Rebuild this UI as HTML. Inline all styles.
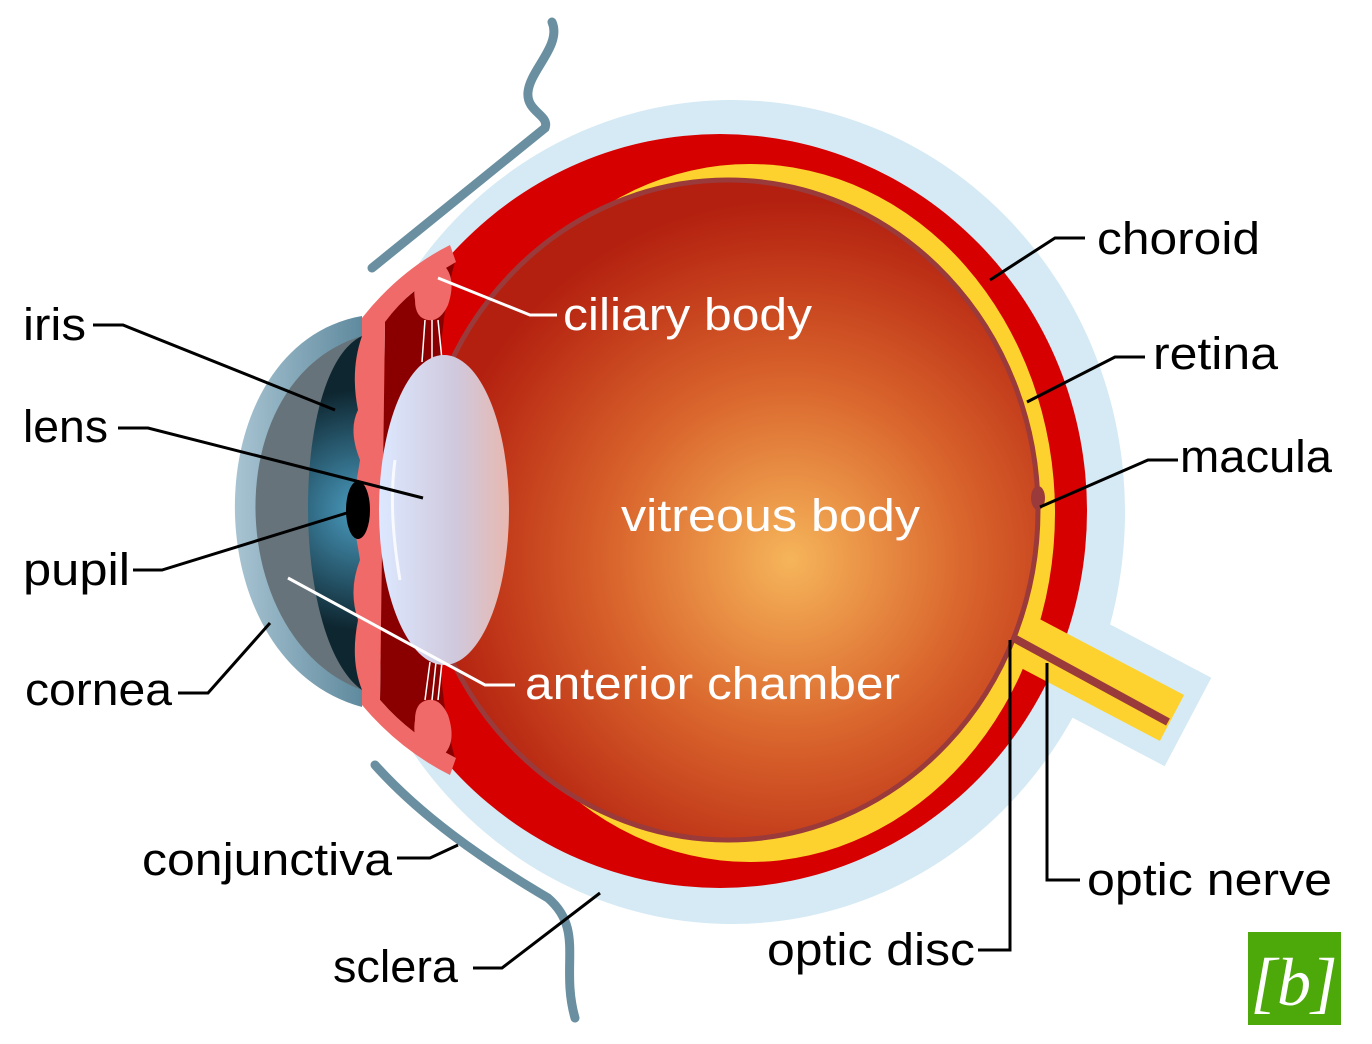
<!DOCTYPE html>
<html><head><meta charset="utf-8"><style>
html,body{margin:0;padding:0;background:#fff;}
svg{display:block;}
text{font-family:"Liberation Sans",sans-serif;font-size:45px;}
</style></head><body>
<svg width="1372" height="1044" viewBox="0 0 1372 1044" xmlns="http://www.w3.org/2000/svg">
<defs>
<radialGradient id="vit" cx="790" cy="560" r="360" gradientUnits="userSpaceOnUse">
<stop offset="0" stop-color="#f6b55a"/><stop offset="0.5" stop-color="#d9642c"/><stop offset="1" stop-color="#b3200f"/>
</radialGradient>
<linearGradient id="lens" x1="0" x2="1" y1="0" y2="0">
<stop offset="0" stop-color="#dce8ff"/><stop offset="0.6" stop-color="#d0c8dc"/><stop offset="1" stop-color="#e8b8b0"/>
</linearGradient>
<radialGradient id="iris" cx="360" cy="510" r="120" gradientUnits="userSpaceOnUse">
<stop offset="0" stop-color="#4a9cc0"/><stop offset="1" stop-color="#0e2630"/>
</radialGradient>
<linearGradient id="corn" x1="0" x2="1">
<stop offset="0" stop-color="#a8c4d2"/><stop offset="1" stop-color="#5f8a9e"/>
</linearGradient>
</defs>
<ellipse cx="732" cy="512" rx="393" ry="412" fill="#d5eaf4"/>
<line x1="985" y1="615" x2="1188" y2="722" stroke="#d5eaf4" stroke-width="100"/>
<ellipse cx="720" cy="511" rx="367" ry="377" fill="#d60000"/>
<ellipse cx="750" cy="513" rx="305" ry="349" fill="#fdd22e"/>
<line x1="995" y1="625" x2="1172" y2="718" stroke="#fdd22e" stroke-width="52"/>
<line x1="1010" y1="636" x2="1168" y2="722" stroke="#9a3a3a" stroke-width="8"/>
<path d="M385,320 Q410,290 455,262 Q435,330 435,510 Q435,690 455,758 Q410,735 380,700 Z" fill="#8a0000"/>
<ellipse cx="728" cy="510" rx="310" ry="330" fill="url(#vit)" stroke="#9a3a3a" stroke-width="5"/>
<path d="M362,318 Q400,270 450,245 L456,262 Q410,288 385,322 L380,700 Q410,735 456,758 L450,775 Q400,750 362,705 Z" fill="#ef6a68"/>
<ellipse cx="1038" cy="498" rx="7" ry="12" fill="#9a3a3a"/>
<path d="M415,300 Q410,270 440,262 Q458,275 448,305 Q440,322 428,320 Q415,318 415,300Z" fill="#ef6a68"/>
<path d="M415,720 Q410,750 440,758 Q458,745 448,715 Q440,698 428,700 Q415,702 415,720Z" fill="#ef6a68"/>
<g stroke="#fff" stroke-width="1.5"><line x1="425" y1="320" x2="422" y2="362"/><line x1="432" y1="320" x2="432" y2="360"/><line x1="438" y1="320" x2="442" y2="360"/>
<line x1="425" y1="700" x2="430" y2="662"/><line x1="432" y1="700" x2="436" y2="662"/><line x1="438" y1="700" x2="442" y2="662"/></g>
<ellipse cx="444" cy="510" rx="65" ry="155" fill="url(#lens)"/>
<path d="M395,460 Q388,510 400,580" stroke="#fff" stroke-width="3" fill="none" opacity="0.8"/>
<path d="M552,22 C562,45 530,70 528,92 C526,112 550,115 545,128 L372,268" stroke="#6a8fa0" stroke-width="9" fill="none" stroke-linecap="round"/>
<path d="M375,765 C420,815 480,858 548,898 C585,930 560,965 575,1018" stroke="#6a8fa0" stroke-width="9" fill="none" stroke-linecap="round"/>
<path d="M362,316 C195,345 190,660 362,707 Z" fill="url(#corn)"/>
<path d="M362,336 C215,380 225,640 362,690 Z" fill="#66737a"/>
<path d="M362,336 C290,370 290,640 362,690 Z" fill="url(#iris)"/>
<path d="M362,336 L376,330 Q370,380 372,420 Q360,440 372,460 L368,490 L368,530 L372,560 Q360,590 372,620 Q368,660 376,692 L362,690 Q350,660 358,620 Q348,590 360,560 L355,530 L355,490 L360,460 Q348,430 358,410 Q350,370 362,336Z" fill="#ef6a68"/>
<ellipse cx="358" cy="510" rx="12" ry="29" fill="#000"/>
<g stroke="#000" stroke-width="3" fill="none">
<polyline points="990,280 1055,238 1085,238"/>
<polyline points="1027,402 1115,357 1145,357"/>
<polyline points="1040,507 1148,460 1178,460"/>
<polyline points="1047,663 1047,880 1080,880"/>
<polyline points="1010,640 1010,950 978,950"/>
<polyline points="600,893 502,968 473,968"/>
<polyline points="458,845 430,858 397,858"/>
<polyline points="270,623 208,693 178,693"/>
<polyline points="350,512 162,570 133,570"/>
<polyline points="423,498 148,428 118,428"/>
<polyline points="335,410 123,325 93,325"/>
</g>
<g stroke="#fff" stroke-width="3" fill="none">
<polyline points="438,278 530,315 557,315"/>
<polyline points="288,578 485,685 515,685"/>
</g>
<g fill="#000">
<text x="1097" y="254" textLength="163" lengthAdjust="spacingAndGlyphs">choroid</text>
<text x="1153" y="369" textLength="125" lengthAdjust="spacingAndGlyphs">retina</text>
<text x="1180" y="472" textLength="152" lengthAdjust="spacingAndGlyphs">macula</text>
<text x="1087" y="895" textLength="245" lengthAdjust="spacingAndGlyphs">optic nerve</text>
<text x="767" y="965" textLength="208" lengthAdjust="spacingAndGlyphs">optic disc</text>
<text x="333" y="982" textLength="125" lengthAdjust="spacingAndGlyphs">sclera</text>
<text x="142" y="875" textLength="250" lengthAdjust="spacingAndGlyphs">conjunctiva</text>
<text x="25" y="705" textLength="147" lengthAdjust="spacingAndGlyphs">cornea</text>
<text x="23" y="585" textLength="107" lengthAdjust="spacingAndGlyphs">pupil</text>
<text x="23" y="442" textLength="85" lengthAdjust="spacingAndGlyphs">lens</text>
<text x="23" y="340" textLength="63" lengthAdjust="spacingAndGlyphs">iris</text>
</g>
<g fill="#fff">
<text x="563" y="330" textLength="249" lengthAdjust="spacingAndGlyphs">ciliary body</text>
<text x="621" y="531" textLength="299" lengthAdjust="spacingAndGlyphs">vitreous body</text>
<text x="525" y="699" textLength="375" lengthAdjust="spacingAndGlyphs">anterior chamber</text>
</g>
<rect x="1248" y="932" width="93" height="93" fill="#4da80a"/>
<text x="1294" y="1005" text-anchor="middle" fill="#fff" style="font-family:'Liberation Serif',serif;font-style:italic;font-size:68px">[b]</text>
</svg>
</body></html>
